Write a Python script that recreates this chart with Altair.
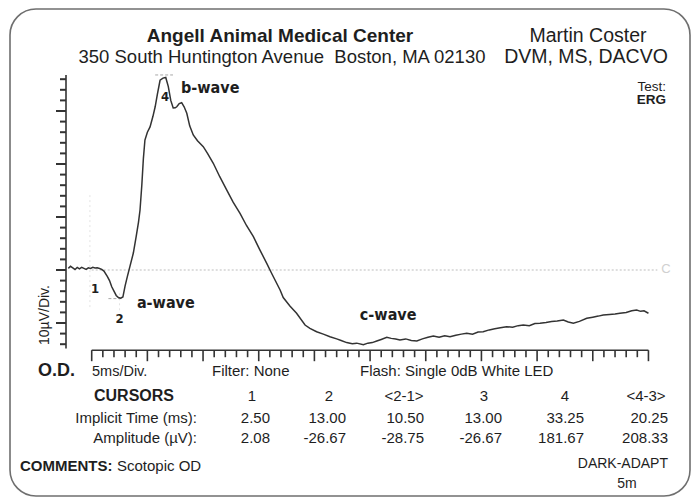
import altair as alt
import pandas as pd

# ---------------- data ----------------
t_ms = [-10.5, -9.5, -8.5, -7.5, -6.5, -5.5, -4.5, -3.5, -2.5, -1.5, -0.5, 0.5, 1.5, 2.5, 3.5, 4.5, 5.5,
        7, 8, 9, 10, 11, 12, 13, 14, 15, 16, 17, 18.7, 20, 21, 21.7, 22.5, 23.2, 23.9, 25, 26.2, 27.5,
        28.5, 29.5, 30.7, 32, 33.25, 34.4, 35.5, 36.6, 37.5, 38.2, 39.3, 40.4, 41.5, 42.7, 44, 45.6,
        47.5, 50.1, 52, 54.6, 57.5, 60.6, 63.5, 66.6, 69.5, 72.6, 75.5, 78.6, 81, 84.6, 86, 89, 92,
        95.8, 98, 101, 104, 107, 110, 112, 114.5, 117, 119, 122, 124, 126, 128, 130, 132.5, 134.5,
        136.5, 138.4, 141, 143.5, 146, 148.5, 151, 153.4, 156, 158.5, 160.9, 163.5, 166, 168.4, 171,
        173.5, 175.8, 178.5, 181, 183.5, 186.3, 189, 191.5, 193.8, 196.5, 199, 201.3, 204, 206.5, 209,
        211.8, 214, 216.3, 219, 222.3, 225, 227.5, 229.7, 232.5, 235, 237.2, 240, 242.5, 244.7, 246.5,
        248, 250]
amp_uv = [1.5, 3.5, 2.0, 0.5, 2.5, 1.0, 2.5, 1.5, 0.5, 2.0, 1.5, 2.5, 2.0, 2.08, 1.5, 0.5, -1.0,
          -6, -10, -15.8, -20, -24, -26, -26.67, -25.5, -15, -6.3, 2, 16, 32, 45, 56.6, 80, 105, 122.6,
          130, 135, 145, 154, 166, 179, 181, 181.67, 173, 160, 152.8, 153, 154, 157, 157.8, 154, 147.8,
          136, 127.4, 122, 116.3, 110, 100.7, 88, 75.5, 64, 53.5, 42, 31.4, 19, 6.3, -4, -18.9, -26,
          -34, -40.8, -51.9, -55, -58.2, -60.5, -62.9, -65, -66.5, -68.5, -69.5, -69, -70.5, -69,
          -68.5, -67, -65.5, -63.5, -64.5, -65, -66, -65, -66.5, -67, -65, -63.5, -62.3, -63.5, -62,
          -62.9, -61.5, -60.5, -59.7, -60.5, -58.5, -58.2, -56.5, -55.5, -54.5, -53.5, -54, -52.5,
          -51.9, -52.5, -50.5, -50.3, -49.5, -48.5, -48, -47.2, -49, -50.3, -48.5, -45.6, -44.5, -43.5,
          -42.5, -42, -41.5, -40.8, -40, -38.5, -37.7, -39, -38.5, -40.8]

x_ticks = list(range(0, 251, 5))      # 5 ms / division
y_ticks = list(range(-70, 181, 10))   # 10 uV / division
x_major_every = 25
y_major_every = 50

wave_labels = ["b-wave", "a-wave", "c-wave"]
wave_t = [40.1, 20.3, 120.4]
wave_v = [171.7, -31.1, -42.5]

cursor_marks = ["4", "1", "2"]
cursor_mark_t = [32.9, 1.5, 12.5]
cursor_mark_v = [163.2, -17.9, -46.2]

cursor_names = ["1", "2", "<2-1>", "3", "4", "<4-3>"]
implicit_ms = ["2.50", "13.00", "10.50", "13.00", "33.25", "20.25"]
amplitude_uv = ["2.08", "-26.67", "-28.75", "-26.67", "181.67", "208.33"]

# ---------------- layout (page pixel positions) ----------------
X0, Y0 = 91.7, 79.2          # page position of the plot origin
W, H = 556.75, 265.0
PAD_L, PAD_T = X0 - 8, Y0 - 8
TOT_W, TOT_H = 683, 490
SANS = "Liberation Sans, Arial, Helvetica, sans-serif"
COND = "DejaVu Sans Condensed, DejaVu Sans, sans-serif"
INK = "#1e1e1e"
AXC = "#333333"
YAX = -25.7                    # y axis line, relative to plot left
XAX = H + 6                    # x axis line, relative to plot top

head_x = [252, 329, 404, 484, 565, 646]
val_right_x = [270, 346, 424, 502, 584, 668]

xs = alt.Scale(domain=[0, 250], nice=False, zero=False)
ys = alt.Scale(domain=[-70, 180], nice=False, zero=False)


def XF(f):
    return alt.X(f, scale=xs, axis=None)


def YF(f):
    return alt.Y(f, scale=ys, axis=None)


trace_df = pd.DataFrame({"t": t_ms, "v": amp_uv})
trace = alt.Chart(trace_df).mark_line(color="#333333", strokeWidth=1.5).encode(
    x=XF("t:Q"), y=YF("v:Q"))


def T(s, x, y, size=12, weight="normal", align="left", baseline="alphabetic",
      font=SANS, color=INK, angle=0):
    return alt.Chart(pd.DataFrame({"s": [s]})).mark_text(
        fontSize=size, fontWeight=weight, align=align, baseline=baseline,
        font=font, color=color, angle=angle
    ).encode(x=alt.value(x - X0), y=alt.value(y - Y0), text="s:N")


# axes drawn as rules
xmin = [t for t in x_ticks if t % x_major_every != 0]
xmaj = [t for t in x_ticks if t % x_major_every == 0]
ymin = [v for v in y_ticks if v % y_major_every != 0]
ymaj = [v for v in y_ticks if v % y_major_every == 0]

xline = alt.Chart(pd.DataFrame({"a": [x_ticks[0]], "b": [x_ticks[-1]]})).mark_rule(
    color=AXC, strokeWidth=1.4).encode(x=XF("a:Q"), x2="b:Q", y=alt.value(XAX))
xtmin = alt.Chart(pd.DataFrame({"t": xmin})).mark_rule(color=AXC, strokeWidth=1.6).encode(
    x=XF("t:Q"), y=alt.value(XAX), y2=alt.value(XAX + 7))
xtmaj = alt.Chart(pd.DataFrame({"t": xmaj})).mark_rule(color=AXC, strokeWidth=1.6).encode(
    x=XF("t:Q"), y=alt.value(XAX), y2=alt.value(XAX + 11))

ylinedf = pd.DataFrame({"a": [y_ticks[0] - 4], "b": [y_ticks[-1] + 4]})
yline = alt.Chart(ylinedf).mark_rule(color=AXC, strokeWidth=1.6).encode(
    x=alt.value(YAX), y=YF("a:Q"), y2="b:Q")
ytmin = alt.Chart(pd.DataFrame({"v": ymin})).mark_rule(color=AXC, strokeWidth=2).encode(
    y=YF("v:Q"), x=alt.value(YAX), x2=alt.value(YAX - 6))
ytmaj = alt.Chart(pd.DataFrame({"v": ymaj})).mark_rule(color=AXC, strokeWidth=2).encode(
    y=YF("v:Q"), x=alt.value(YAX), x2=alt.value(YAX - 10))

# zero baseline (dotted, grey)
zline = alt.Chart(pd.DataFrame({"a": [0], "b": [254], "v": [0]})).mark_rule(
    color="#bdbdbd", strokeWidth=1, strokeDash=[2, 2]).encode(
    x=XF("a:Q"), x2="b:Q", y=YF("v:Q"))

# faint cursor marks
cur_v = alt.Chart(pd.DataFrame({"t": [-0.8, 12.5], "v1": [-35, -38], "v2": [72, -22]})).mark_rule(
    color="#e3e3e3", strokeWidth=1, strokeDash=[2, 3]).encode(
    x=XF("t:Q"), y=YF("v1:Q"), y2="v2:Q")
cur_h = alt.Chart(pd.DataFrame({"a": [28.5, 7.5], "b": [36.5, 13.5], "v": [184, -27]})).mark_rule(
    color="#a8a8a8", strokeWidth=1, strokeDash=[3, 2]).encode(
    x=XF("a:Q"), x2="b:Q", y=YF("v:Q"))

waves = alt.Chart(pd.DataFrame({"s": wave_labels, "t": wave_t, "v": wave_v})).mark_text(
    font=COND, fontSize=16, fontWeight="bold", align="left", baseline="middle", color=INK
).encode(x=XF("t:Q"), y=YF("v:Q"), text="s:N")

marks = alt.Chart(pd.DataFrame({"s": cursor_marks, "t": cursor_mark_t, "v": cursor_mark_v})).mark_text(
    font=COND, fontSize=13, fontWeight="bold", align="center", baseline="middle", color=INK
).encode(x=XF("t:Q"), y=YF("v:Q"), text="s:N")

border = alt.Chart(pd.DataFrame({"a": [0]})).mark_rect(
    cornerRadius=26, fillOpacity=0, stroke="#6f6f6f", strokeWidth=1.6
).encode(x=alt.value(10 - X0), x2=alt.value(690 - X0), y=alt.value(9 - Y0), y2=alt.value(496 - Y0))

texts = [
    T("Angell Animal Medical Center", 280, 42, size=19, weight="bold", align="center"),
    T("350 South Huntington Avenue \u00a0Boston, MA 02130", 282, 63.5, size=18.5, align="center"),
    T("Martin Coster", 588, 42, size=19.5, align="center"),
    T("DVM, MS, DACVO", 586, 63.5, size=19.5, align="center"),
    T("Test:", 666, 90.5, size=13.5, align="right"),
    T("ERG", 666, 104, size=13.5, weight="bold", align="right"),
    T("C", 666, 269, size=13, align="center", baseline="middle", color="#d0d0d0"),
    T("10\u00b5V/Div.", 45, 315, size=14, align="center", baseline="middle", angle=270),
    T("O.D.", 38, 376, size=18, weight="bold"),
    T("5ms/Div.", 92, 375.5, size=14.5),
    T("Filter: None", 212, 375.5, size=15),
    T("Flash: Single 0dB White LED", 360, 375.5, size=15),
    T("CURSORS", 134, 401, size=16, weight="bold", align="center"),
    T("Implicit Time (ms):", 197, 422.5, size=15, align="right"),
    T("Amplitude (\u00b5V):", 197, 442.5, size=15, align="right"),
    T("COMMENTS:", 20, 470.5, size=15, weight="bold"),
    T("Scotopic OD", 117, 470.5, size=15),
    T("DARK-ADAPT", 668, 468, size=14, align="right"),
    T("5m", 627, 488, size=14, align="center"),
]
for i in range(len(cursor_names)):
    texts.append(T(cursor_names[i], head_x[i], 401, size=15, align="center"))
    texts.append(T(implicit_ms[i], val_right_x[i], 422.5, size=15, align="right"))
    texts.append(T(amplitude_uv[i], val_right_x[i], 442.5, size=15, align="right"))

chart = alt.layer(
    border, zline, cur_v, cur_h, xline, xtmin, xtmaj, yline, ytmin, ytmaj,
    trace, waves, marks, *texts
).properties(
    width=W, height=H,
    autosize=alt.AutoSizeParams(type="none"),
    padding={"left": PAD_L, "top": PAD_T, "right": TOT_W - PAD_L - W, "bottom": TOT_H - PAD_T - H},
    background="white",
).configure_view(stroke=None)

chart.save("out.html", embed_options={"renderer": "svg", "actions": False})
